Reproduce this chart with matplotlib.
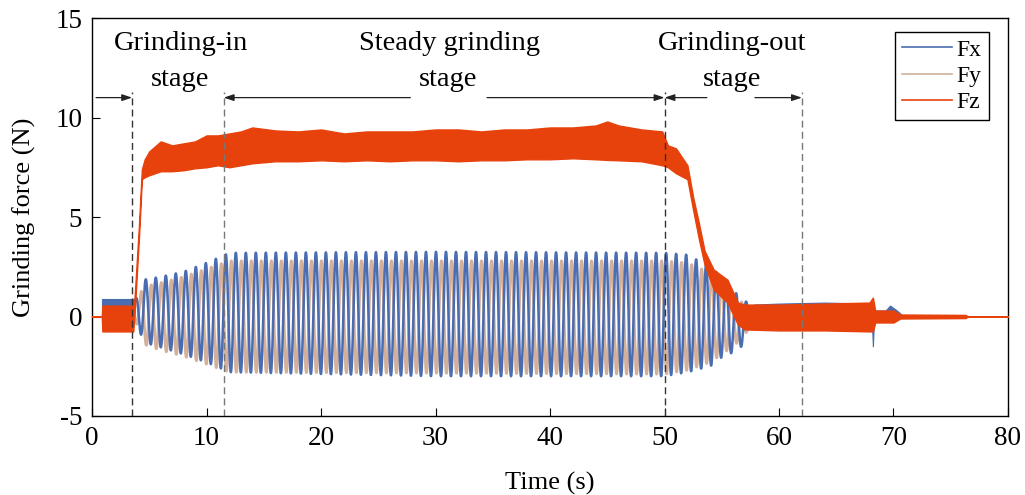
import numpy as np
import matplotlib.pyplot as plt
from matplotlib.lines import Line2D

plt.rcParams['font.family'] = ['Liberation Serif', 'DejaVu Serif']
plt.rcParams['axes.unicode_minus'] = False

# colours
c_fx = '#4a6cb0'
c_fy = '#d2b09c'
c_fz = '#e8420c'

# stage boundaries (s) and arrow segments (tail, head)
stage_lines = [3.5, 11.5, 50, 62]
arrow_segs = [(0.35, 3.5), (27.8, 11.5), (34.5, 50), (53.7, 50), (57.9, 62)]

# Fx / Fy oscillation: envelope, period from peak spacing
osc_period = 0.874
env_t = [3.6, 4.5, 6.0, 8.0, 10.0, 12.0, 30.0, 50.0, 52.0, 54.0, 55.0, 56.0, 57.0, 57.8]
fx_up = [0.6, 1.85, 2.0, 2.25, 2.7, 3.2, 3.25, 3.2, 3.1, 2.5, 2.0, 1.3, 0.8, 0.5]
fx_lo = [0.2, -1.3, -1.55, -1.9, -2.3, -2.8, -3.0, -3.0, -2.8, -2.5, -2.05, -1.8, -1.4, 0.1]
fy_up = [0.4, 1.5, 1.7, 2.0, 2.4, 2.8, 2.8, 2.8, 2.7, 2.2, 1.7, 1.1, 0.6, 0.3]
fy_lo = [0.1, -1.4, -1.7, -2.0, -2.4, -2.8, -2.85, -2.9, -2.7, -2.3, -1.9, -1.5, -1.0, 0.0]

# Fx low-level noise band before the oscillation
fxa_t  = [0.85, 3.7]
fxa_up = [0.9, 0.9]
fxa_lo = [0.2, 0.2]
# Fx low-level noise band after the oscillation
fxb_t  = [57.8, 60.0, 64.0, 68.1, 68.2, 68.3, 69.3, 69.7, 70.3, 70.8, 76.3, 76.5]
fxb_up = [0.6, 0.65, 0.7, 0.65, 0.7, 0.3, 0.3, 0.55, 0.3, 0.05, 0.03, 0.0]
fxb_lo = [0.0, 0.0, 0.0, 0.0, -1.5, -0.1, -0.1, 0.0, -0.1, -0.05, -0.03, 0.0]

# Fz band (upper / lower edge of the noisy trace)
fz_t  = [0.0, 0.85, 0.9, 3.6, 3.7, 4.1, 4.35, 4.6, 5, 6, 7, 8, 9, 10, 11, 12, 13, 14, 16,
         18, 20, 22, 24, 26, 28, 30, 32, 34, 36, 38, 40, 42, 44, 45, 46, 48, 49.8,
         50.3, 51, 52, 52.5, 53.0, 53.5, 54.3, 55.5, 56.4, 57, 60, 64, 67.9, 68.2,
         68.4, 70, 70.6, 76.3, 76.5, 80]
fz_up = [0.0, 0.0, 0.55, 0.55, 0.8, 4.6, 7.4, 7.9, 8.3, 8.8, 8.6, 8.7, 8.8, 9.1, 9.1, 9.2, 9.3, 9.5, 9.35,
         9.3, 9.4, 9.2, 9.3, 9.3, 9.3, 9.4, 9.4, 9.3, 9.4, 9.4, 9.5, 9.5, 9.6, 9.8, 9.6, 9.4, 9.3,
         8.6, 8.45, 7.6, 6.0, 4.7, 3.3, 2.35, 1.85, 0.7, 0.6, 0.6, 0.65, 0.7, 0.95,
         0.3, 0.3, 0.1, 0.08, 0.0, 0.0]
fz_lo = [0.0, 0.0, -0.75, -0.75, 0.0, 4.0, 6.9, 7.0, 7.1, 7.3, 7.3, 7.35, 7.45, 7.5, 7.6, 7.5, 7.6, 7.7, 7.8,
         7.8, 7.85, 7.8, 7.85, 7.8, 7.85, 7.85, 7.8, 7.85, 7.85, 7.9, 7.9, 7.95, 7.9, 7.87, 7.85, 7.8, 7.6,
         7.5, 7.2, 6.9, 5.35, 3.9, 2.6, 1.35, 0.7, -0.4, -0.65, -0.7, -0.7, -0.75, -0.75,
         -0.3, -0.3, -0.1, -0.08, 0.0, 0.0]

fig = plt.figure(figsize=(10.25, 4.95), dpi=100)
ax = fig.add_axes([0.0898, 0.1596, 0.8936, 0.804])

# oscillating components
t = np.arange(env_t[0], env_t[-1], 0.005)
w = 2 * np.pi * (t - env_t[0]) / osc_period
fx_c = (np.interp(t, env_t, fx_up) + np.interp(t, env_t, fx_lo)) / 2
fx_h = (np.interp(t, env_t, fx_up) - np.interp(t, env_t, fx_lo)) / 2
fy_c = (np.interp(t, env_t, fy_up) + np.interp(t, env_t, fy_lo)) / 2
fy_h = (np.interp(t, env_t, fy_up) - np.interp(t, env_t, fy_lo)) / 2
ax.plot(t, fy_c + fy_h * np.sin(w + 0.9 * np.pi), color=c_fy, lw=2.0, zorder=2)
ax.plot(t, fx_c + fx_h * np.sin(w), color=c_fx, lw=1.8, zorder=3)

ax.fill_between(fxa_t, fxa_lo, fxa_up, color=c_fx, lw=0.8, zorder=3)
ax.fill_between(fxb_t, fxb_lo, fxb_up, color=c_fx, lw=0.8, zorder=3)
ax.fill_between(fz_t, fz_lo, fz_up, facecolor=c_fz, edgecolor=c_fz, lw=1.0, zorder=4)

# stage markers
dash_cols = ['#333333', '#777777', '#333333', '#777777']
for x, col in zip(stage_lines, dash_cols):
    ax.plot([x, x], [-5, 11.3], color=col, lw=1.0, ls=(0, (5, 3)), zorder=5)
for tail, head in arrow_segs:
    ax.annotate('', xy=(head, 11.0), xytext=(tail, 11.0),
                arrowprops=dict(arrowstyle='-|>,head_length=0.6,head_width=0.2',
                                color='#222222', lw=0.9, shrinkA=0, shrinkB=0))

ax.text(7.8, 13.4, 'Grinding-in', fontsize=20.5, ha='center', va='baseline')
ax.text(7.7, 11.6, 'stage', fontsize=20.5, ha='center', va='baseline')
ax.text(31.2, 13.4, 'Steady grinding', fontsize=20.5, ha='center', va='baseline')
ax.text(31.1, 11.6, 'stage', fontsize=20.5, ha='center', va='baseline')
ax.text(55.9, 13.4, 'Grinding-out', fontsize=20.5, ha='center', va='baseline')
ax.text(55.9, 11.6, 'stage', fontsize=20.5, ha='center', va='baseline')

ax.set_xlim(0, 80)
ax.set_ylim(-5, 15)
ax.set_xticks(range(0, 81, 10))
ax.set_yticks([-5, 0, 5, 10, 15])
ax.tick_params(direction='in', length=6, width=0.8, labelsize=19.5, pad=7)
for s in ax.spines.values():
    s.set_linewidth(1.0)
ax.set_xlabel('Time (s)', fontsize=19, labelpad=15)
ax.set_ylabel('Grinding force (N)', fontsize=19, labelpad=14)

handles = [Line2D([], [], color=c_fx, lw=1.2),
           Line2D([], [], color=c_fy, lw=1.2),
           Line2D([], [], color=c_fz, lw=1.2)]
leg = ax.legend(handles, ['Fx', 'Fy', 'Fz'], loc='upper right',
                bbox_to_anchor=(0.979, 0.965), borderaxespad=0, fontsize=17,
                handlelength=2.1, handletextpad=0.2, labelspacing=0.2,
                borderpad=0.3, fancybox=False, framealpha=1)
leg.get_frame().set_edgecolor('black')
leg.get_frame().set_linewidth(1.0)

fig.savefig('out.png', dpi=100)
